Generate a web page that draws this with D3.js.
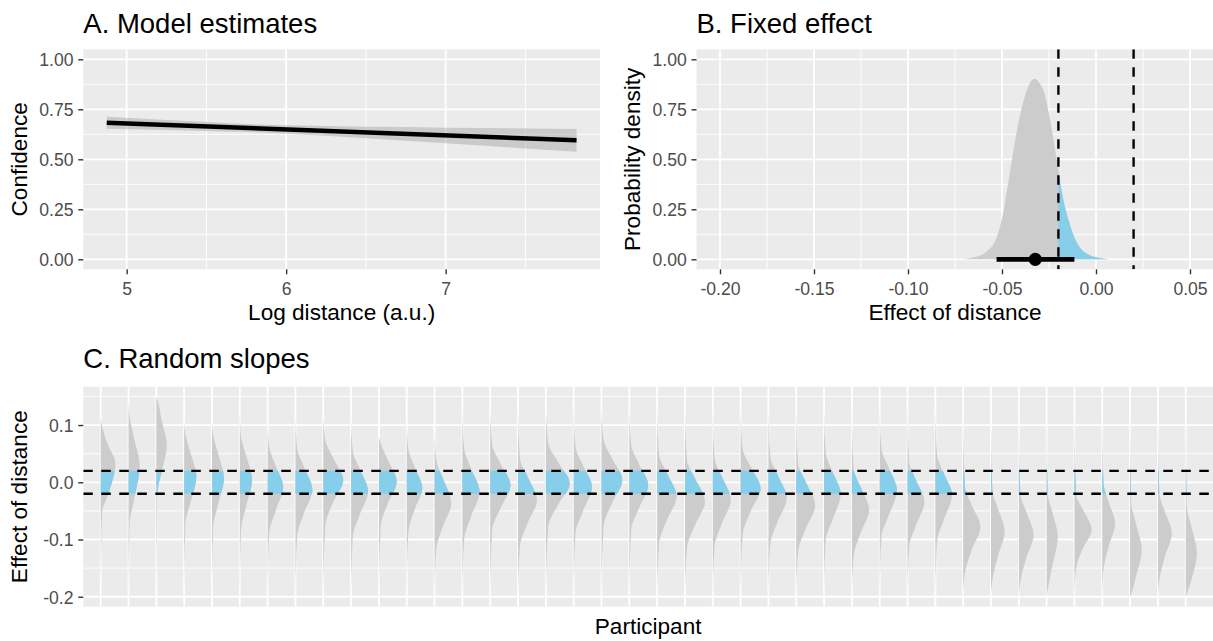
<!DOCTYPE html>
<html>
<head>
<meta charset="utf-8">
<script src="https://cdn.jsdelivr.net/npm/d3@7"></script>
<style>
  body { margin: 0; background: #ffffff; }
  svg { display: block; font-family: "Liberation Sans", Arial, Helvetica, sans-serif; }
</style>
</head>
<body>
<svg id="chart" width="1213" height="641"></svg>
<script>
// ---------- Panel A: model estimates ----------
const fitX = [4.875, 7.821];
const fitY = [0.683, 0.595];
const ribbonX  = [4.875, 5.25, 5.5, 5.75, 6.0, 6.25, 6.5, 6.75, 7.0, 7.25, 7.5, 7.821];
const ribbonLo = [0.653, 0.647, 0.642, 0.637, 0.628, 0.618, 0.605, 0.593, 0.580, 0.568, 0.554, 0.538];
const ribbonHi = [0.713, 0.697, 0.686, 0.677, 0.670, 0.666, 0.663, 0.661, 0.658, 0.656, 0.654, 0.652];
const logDistTicks = [5, 6, 7];
const logDistMinor = [5.5, 6.5, 7.5];
const confTicks = [0, 0.25, 0.5, 0.75, 1];
const confMinor = [0.125, 0.375, 0.625, 0.875];

// ---------- Panel B: fixed effect posterior ----------
const fixedX = [-0.0713, -0.0650, -0.0585, -0.0532, -0.0497, -0.0461, -0.0426, -0.0390, -0.0355, -0.0328,
                -0.0302, -0.0275, -0.0248, -0.0222, -0.0200, -0.0178, -0.0142, -0.0106, -0.0053, 0.0018, 0.0070];
const fixedDensity = [0.000, 0.010, 0.037, 0.100, 0.217, 0.417, 0.617, 0.775, 0.875, 0.903,
                      0.883, 0.833, 0.717, 0.575, 0.440, 0.317, 0.183, 0.092, 0.030, 0.007, 0.000];
const fixedPoint = -0.0323;
const fixedInterval = [-0.0529, -0.0115];
const ropeLimits = [-0.02, 0.02];
const effectTicks = [-0.20, -0.15, -0.10, -0.05, 0.00, 0.05];
const effectMinor = [-0.175, -0.125, -0.075, -0.025, 0.025];
const densityTicks = [0, 0.25, 0.5, 0.75, 1];
const densityMinor = [0.125, 0.375, 0.625, 0.875];

// ---------- Panel C: random slopes per participant ----------
// Each posterior slab: tails, 10%-height points, half-height points, mode and peak width.
const slabMode    = [0.033, 0.030, 0.065, 0.010, 0.007, 0.004, -0.008, -0.013, 0.004, -0.016,
                     0.001, -0.010, -0.037, -0.016, -0.005, -0.031, -0.002, -0.008, 0.004, -0.005,
                     -0.025, -0.034, -0.031, -0.011, -0.028, -0.040, -0.020, -0.048, -0.014, -0.034,
                     -0.022, -0.078, -0.086, -0.092, -0.095, -0.083, -0.072, -0.118, -0.089, -0.124];
const slabPeak    = [0.53, 0.40, 0.38, 0.44, 0.43, 0.44, 0.56, 0.61, 0.72, 0.61,
                     0.64, 0.56, 0.60, 0.62, 0.73, 0.68, 0.86, 0.66, 0.75, 0.68,
                     0.70, 0.72, 0.65, 0.72, 0.66, 0.68, 0.60, 0.62, 0.62, 0.61,
                     0.60, 0.62, 0.49, 0.53, 0.40, 0.62, 0.46, 0.42, 0.50, 0.40];
const slabHalfHi  = [0.065, 0.077, 0.109, 0.053, 0.051, 0.048, 0.030, 0.027, 0.042, 0.024,
                     0.039, 0.027, 0.007, 0.024, 0.033, 0.010, 0.036, 0.030, 0.042, 0.033,
                     0.016, 0.007, 0.010, 0.027, 0.013, 0.001, 0.019, -0.008, 0.027, 0.004,
                     0.016, -0.040, -0.045, -0.051, -0.051, -0.048, -0.034, -0.072, -0.051, -0.077];
const slabHalfLo  = [-0.022, -0.031, 0.018, -0.037, -0.040, -0.043, -0.051, -0.054, -0.034, -0.057,
                     -0.037, -0.048, -0.077, -0.060, -0.046, -0.072, -0.040, -0.051, -0.037, -0.046,
                     -0.066, -0.075, -0.072, -0.051, -0.069, -0.081, -0.066, -0.089, -0.060, -0.075,
                     -0.066, -0.118, -0.130, -0.133, -0.147, -0.115, -0.112, -0.165, -0.130, -0.171];
const slabTenthHi = [0.097, 0.115, 0.144, 0.085, 0.083, 0.080, 0.062, 0.059, 0.074, 0.054,
                     0.068, 0.059, 0.039, 0.059, 0.065, 0.042, 0.068, 0.062, 0.074, 0.065,
                     0.048, 0.039, 0.042, 0.059, 0.045, 0.033, 0.051, 0.024, 0.059, 0.036,
                     0.048, -0.008, -0.014, -0.019, -0.019, -0.022, -0.002, -0.037, -0.019, -0.043];
const slabTenthLo = [-0.051, -0.072, -0.019, -0.072, -0.077, -0.083, -0.089, -0.095, -0.077, -0.095,
                     -0.077, -0.089, -0.118, -0.101, -0.083, -0.112, -0.077, -0.089, -0.077, -0.083,
                     -0.107, -0.115, -0.112, -0.092, -0.109, -0.121, -0.101, -0.130, -0.095, -0.112,
                     -0.104, -0.159, -0.171, -0.174, -0.188, -0.150, -0.153, -0.195, -0.171, -0.195];
const slabTailHi  = [0.112, 0.144, 0.149, 0.109, 0.106, 0.123, 0.103, 0.115, 0.115, 0.115,
                     0.080, 0.109, 0.091, 0.130, 0.130, 0.130, 0.130, 0.130, 0.130, 0.130,
                     0.130, 0.130, 0.130, 0.130, 0.130, 0.130, 0.130, 0.130, 0.130, 0.130,
                     0.130, 0.120, 0.120, 0.120, 0.120, 0.120, 0.120, 0.120, 0.120, 0.120];
const slabTailLo  = [-0.188, -0.200, -0.200, -0.200, -0.200, -0.200, -0.200, -0.200, -0.200, -0.200,
                     -0.200, -0.200, -0.200, -0.200, -0.200, -0.200, -0.200, -0.200, -0.200, -0.200,
                     -0.200, -0.200, -0.200, -0.200, -0.200, -0.200, -0.200, -0.200, -0.200, -0.200,
                     -0.200, -0.200, -0.200, -0.200, -0.200, -0.200, -0.200, -0.200, -0.200, -0.200];
const slopeTicks = [0.1, 0.0, -0.1, -0.2];
const slopeMinor = [0.15, 0.05, -0.05, -0.15];

// ---------- styling ----------
const BG = "#EBEBEB", GRID = "#FFFFFF", SLAB = "#CCCCCC", ROPE = "#87CEEB";
const TICK_TXT = "#4D4D4D", TICK_LINE = "#333333";
const TITLE_SIZE = 27.5, AXIS_TITLE_SIZE = 22.6, TICK_SIZE = 17.6;

const svg = d3.select("#chart");
const hyphen = s => s.replace(/\u2212/g, "-");
const fmt2 = v => hyphen(d3.format(".2f")(v));
const fmt1 = v => hyphen(d3.format(".1f")(v));

const boxA = {x0: 83.3, x1: 600, y0: 49.3, y1: 269.3};
const boxB = {x0: 696.5, x1: 1213.5, y0: 49.3, y1: 269.3};
const boxC = {x0: 83.3, x1: 1213, y0: 386.7, y1: 606.7};

function clipFor(id, box) {
  svg.append("clipPath").attr("id", id)
    .append("rect").attr("x", box.x0).attr("y", box.y0)
    .attr("width", box.x1 - box.x0).attr("height", box.y1 - box.y0);
  return `url(#${id})`;
}

function background(box, x, y, xMajor, xMinor, yMajor, yMinor) {
  const g = svg.append("g");
  g.append("rect").attr("x", box.x0).attr("y", box.y0)
    .attr("width", box.x1 - box.x0).attr("height", box.y1 - box.y0).attr("fill", BG);
  const vline = (vals, w) => g.selectAll(null).data(vals).join("line")
    .attr("x1", d => x(d)).attr("x2", d => x(d)).attr("y1", box.y0).attr("y2", box.y1)
    .attr("stroke", GRID).attr("stroke-width", w);
  const hline = (vals, w) => g.selectAll(null).data(vals).join("line")
    .attr("y1", d => y(d)).attr("y2", d => y(d)).attr("x1", box.x0).attr("x2", box.x1)
    .attr("stroke", GRID).attr("stroke-width", w);
  hline(yMinor, 0.9); vline(xMinor, 0.9);
  hline(yMajor, 1.8); vline(xMajor, 1.8);
}

function styleAxis(g) {
  g.select(".domain").remove();
  g.selectAll(".tick line").attr("stroke", TICK_LINE).attr("stroke-width", 1.4);
  g.selectAll(".tick text").attr("fill", TICK_TXT).attr("font-size", TICK_SIZE)
    .attr("font-family", "Liberation Sans, Arial, sans-serif");
}

function leftAxis(box, y, ticks, fmt) {
  const g = svg.append("g").attr("transform", `translate(${box.x0},0)`)
    .call(d3.axisLeft(y).tickValues(ticks).tickFormat(fmt).tickSize(5).tickPadding(4.8));
  styleAxis(g);
  g.selectAll(".tick text").attr("dy", "0.36em");
}

function bottomAxis(box, x, ticks, fmt) {
  const g = svg.append("g").attr("transform", `translate(0,${box.y1})`)
    .call(d3.axisBottom(x).tickValues(ticks).tickFormat(fmt).tickSize(5).tickPadding(8));
  styleAxis(g);
  g.selectAll(".tick text").attr("dy", "0.71em");
}

function title(text, x, y) {
  svg.append("text").attr("x", x).attr("y", y).attr("font-size", TITLE_SIZE)
    .attr("fill", "#000").text(text);
}
function xTitle(text, box, y) {
  svg.append("text").attr("x", (box.x0 + box.x1) / 2).attr("y", y)
    .attr("text-anchor", "middle").attr("font-size", AXIS_TITLE_SIZE).attr("fill", "#000").text(text);
}
function yTitle(text, box, x) {
  svg.append("text").attr("transform", `translate(${x},${(box.y0 + box.y1) / 2}) rotate(-90)`)
    .attr("text-anchor", "middle").attr("font-size", AXIS_TITLE_SIZE).attr("fill", "#000").text(text);
}

function dashedH(g, box, yv) {
  g.append("line").attr("x1", box.x0).attr("x2", box.x1).attr("y1", yv).attr("y2", yv)
    .attr("stroke", "#000").attr("stroke-width", 2.4).attr("stroke-dasharray", "9.5,8.5");
}
function dashedV(g, box, xv) {
  g.append("line").attr("y1", box.y0).attr("y2", box.y1).attr("x1", xv).attr("x2", xv)
    .attr("stroke", "#000").attr("stroke-width", 2.4).attr("stroke-dasharray", "9.5,8.5");
}

// ================= Panel A =================
{
  const x = d3.scaleLinear().domain([4.728, 7.968]).range([boxA.x0, boxA.x1]);
  const y = d3.scaleLinear().domain([-0.05, 1.05]).range([boxA.y1, boxA.y0]);
  background(boxA, x, y, logDistTicks, logDistMinor, confTicks, confMinor);
  const g = svg.append("g").attr("clip-path", clipFor("clipA", boxA));

  const ribbon = ribbonX.map((v, i) => ({x: v, lo: ribbonLo[i], hi: ribbonHi[i]}));
  g.append("path").datum(ribbon)
    .attr("d", d3.area().x(d => x(d.x)).y0(d => y(d.lo)).y1(d => y(d.hi)))
    .attr("fill", "#999999").attr("fill-opacity", 0.4);

  const fit = fitX.map((v, i) => [v, fitY[i]]);
  g.append("path").datum(fit)
    .attr("d", d3.line().x(d => x(d[0])).y(d => y(d[1])))
    .attr("fill", "none").attr("stroke", "#000").attr("stroke-width", 4.4);

  leftAxis(boxA, y, confTicks, fmt2);
  bottomAxis(boxA, x, logDistTicks, d3.format("d"));
  title("A. Model estimates", boxA.x0, 32.5);
  xTitle("Log distance (a.u.)", boxA, 320);
  yTitle("Confidence", boxA, 27);
}

// ================= Panel B =================
{
  const x = d3.scaleLinear().domain([-0.2125, 0.0625]).range([boxB.x0, boxB.x1]);
  const y = d3.scaleLinear().domain([-0.05, 1.05]).range([boxB.y1, boxB.y0]);
  background(boxB, x, y, effectTicks, effectMinor, densityTicks, densityMinor);
  const g = svg.append("g").attr("clip-path", clipFor("clipB", boxB));

  const dens = fixedX.map((v, i) => [v, fixedDensity[i]]);
  const area = d3.area().x(d => x(d[0])).y0(y(0)).y1(d => y(d[1])).curve(d3.curveMonotoneX);
  g.append("path").datum(dens).attr("d", area).attr("fill", SLAB);

  svg.append("clipPath").attr("id", "ropeB").append("rect")
    .attr("x", x(ropeLimits[0])).attr("width", x(ropeLimits[1]) - x(ropeLimits[0]))
    .attr("y", boxB.y0).attr("height", boxB.y1 - boxB.y0);
  g.append("g").attr("clip-path", "url(#ropeB)")
    .append("path").datum(dens).attr("d", area).attr("fill", ROPE);

  ropeLimits.forEach(r => dashedV(g, boxB, x(r)));

  g.append("line").attr("x1", x(fixedInterval[0])).attr("x2", x(fixedInterval[1]))
    .attr("y1", y(0)).attr("y2", y(0)).attr("stroke", "#000").attr("stroke-width", 4.8);
  g.append("circle").attr("cx", x(fixedPoint)).attr("cy", y(0)).attr("r", 6.6).attr("fill", "#000");

  leftAxis(boxB, y, densityTicks, fmt2);
  bottomAxis(boxB, x, effectTicks, fmt2);
  title("B. Fixed effect", boxB.x0, 32.5);
  xTitle("Effect of distance", boxB, 320);
  yTitle("Probability density", boxB, 639.5);
}

// ================= Panel C =================
{
  const ids = slabMode.map((_, i) => i + 1);
  const x = d3.scaleLinear().domain([0.375, 40.98]).range([boxC.x0, boxC.x1]);
  const y = d3.scaleLinear().domain([-0.2174, 0.167]).range([boxC.y1, boxC.y0]);
  background(boxC, x, y, ids, [], slopeTicks, slopeMinor);
  const g = svg.append("g").attr("clip-path", clipFor("clipC", boxC));
  const unit = x(1) - x(0);

  const slabs = ids.map((id, i) => ({
    id,
    pts: [
      [slabTailHi[i], 0],
      [slabTenthHi[i], 0.1 * slabPeak[i]],
      [slabHalfHi[i], 0.5 * slabPeak[i]],
      [slabMode[i], slabPeak[i]],
      [slabHalfLo[i], 0.5 * slabPeak[i]],
      [slabTenthLo[i], 0.1 * slabPeak[i]],
      [slabTailLo[i], 0]
    ]
  }));
  const slabArea = s => d3.area()
    .y(d => y(d[0]))
    .x0(x(s.id))
    .x1(d => x(s.id) + d[1] * unit)
    .curve(d3.curveMonotoneY)(s.pts);

  g.selectAll(".slab").data(slabs).join("path").attr("class", "slab")
    .attr("d", slabArea).attr("fill", SLAB);

  svg.append("clipPath").attr("id", "ropeC").append("rect")
    .attr("x", boxC.x0).attr("width", boxC.x1 - boxC.x0)
    .attr("y", y(ropeLimits[1])).attr("height", y(ropeLimits[0]) - y(ropeLimits[1]));
  g.append("g").attr("clip-path", "url(#ropeC)")
    .selectAll("path").data(slabs).join("path")
    .attr("d", slabArea).attr("fill", ROPE);

  ropeLimits.forEach(r => dashedH(g, boxC, y(r)));

  leftAxis(boxC, y, slopeTicks, fmt1);
  title("C. Random slopes", boxC.x0, 368.3);
  xTitle("Participant", boxC, 634);
  yTitle("Effect of distance", boxC, 27);
}
</script>
</body>
</html>
